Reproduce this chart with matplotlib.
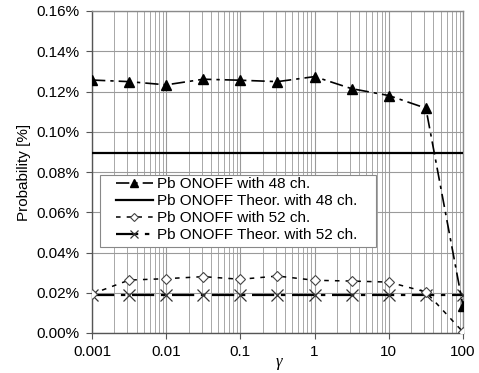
import matplotlib
matplotlib.use("Agg")
import matplotlib.pyplot as plt
from matplotlib.patches import Rectangle
from matplotlib.ticker import FixedLocator, LogLocator, NullFormatter, FuncFormatter

gamma = [0.001, 0.00316, 0.01, 0.0316, 0.1, 0.316, 1, 3.16, 10, 31.6, 100]
p48 = [0.1257, 0.1249, 0.1233, 0.1261, 0.1256, 0.1249, 0.1274, 0.1214, 0.1180, 0.1117, 0.0134]
theor48 = [0.0896] * len(gamma)
p52 = [0.0194, 0.0263, 0.0270, 0.0280, 0.0267, 0.0283, 0.0262, 0.0258, 0.0253, 0.0204, 0.0005]
theor52 = [0.0190] * len(gamma)
labels = ["Pb ONOFF with 48 ch.", "Pb ONOFF Theor. with 48 ch.",
          "Pb ONOFF with 52 ch.", "Pb ONOFF Theor. with 52 ch."]
xticks = [0.001, 0.01, 0.1, 1, 10, 100]
xticklabels = ["0.001", "0.01", "0.1", "1", "10", "100"]
yticks = [0.00, 0.02, 0.04, 0.06, 0.08, 0.10, 0.12, 0.14, 0.16]

plt.rcParams['font.family'] = ['Liberation Sans', 'DejaVu Sans']

W, H = 479, 373
fig = plt.figure(figsize=(W/100, H/100), dpi=100)
ax = fig.add_axes([92/W, 1 - 333/H, (463 - 92)/W, (333 - 11)/H])

ax.set_xscale('log')
ax.set_xlim(0.001, 100)
ax.set_ylim(0, 0.16)

ax.xaxis.set_major_locator(FixedLocator(xticks))
ax.set_xticklabels(xticklabels)
ax.xaxis.set_minor_locator(LogLocator(base=10, subs=range(2, 10)))
ax.xaxis.set_minor_formatter(NullFormatter())
ax.set_yticks(yticks)
ax.yaxis.set_major_formatter(FuncFormatter(lambda v, p: f"{v:.2f}%"))

ax.grid(True, which='major', axis='both', color='#9a9a9a', linewidth=0.8)
ax.grid(True, which='minor', axis='x', color='#a8a8a8', linewidth=0.7)
ax.set_axisbelow(True)
for s in ax.spines.values():
    s.set_color('#8a8a8a')
    s.set_linewidth(1.0)
ax.spines['left'].set_color('#555555')
ax.spines['bottom'].set_color('#555555')
ax.tick_params(axis='both', which='major', labelsize=11, color='#555555', length=4, width=0.8)
ax.tick_params(axis='y', which='major', pad=5)
ax.tick_params(axis='x', which='minor', length=0)
ax.tick_params(axis='x', which='major', pad=5)

ax.plot(gamma, p48, color='black', linewidth=1.2, dashes=(8, 3, 2, 3),
        marker='^', markersize=7, markerfacecolor='black', markeredgecolor='black',
        label=labels[0], zorder=4)
ax.plot(gamma, theor48, color='black', linewidth=1.6, linestyle='-', label=labels[1], zorder=3)
ax.plot(gamma, p52, color='black', linewidth=1.1, dashes=(3, 4),
        marker='D', markersize=5, markerfacecolor='white', markeredgecolor='#444444',
        markeredgewidth=0.8, label=labels[2], zorder=4)
ax.plot(gamma, theor52, color='black', linewidth=1.6, dashes=(10, 3, 2, 3),
        marker='x', markersize=8, markeredgewidth=0.9, markeredgecolor='#333333',
        label=labels[3], zorder=3)

# legend frame drawn separately (wider horizontal padding than vertical)
frame = Rectangle((100/W, 1 - 247/H), (376 - 100)/W, (247 - 175)/H,
                  transform=fig.transFigure, facecolor='white', edgecolor='#888888',
                  linewidth=0.8, zorder=5, clip_on=False)
ax.add_patch(frame)

leg = ax.legend(loc='upper left', bbox_to_anchor=(116/W, 1 - 177/H),
                bbox_transform=fig.transFigure,
                fontsize=11, frameon=False, labelspacing=0.2, handlelength=2.4,
                handletextpad=0.3, borderpad=0, borderaxespad=0, markerscale=0.75)
leg.set_zorder(6)

ax.set_ylabel("Probability [%]", fontsize=11, labelpad=4)
fig.text(279/W, 1 - 362/H, "γ", fontsize=12, style='italic', ha='center', va='center',
         family=['Liberation Serif', 'DejaVu Serif'])

fig.savefig("out.png", dpi=100)
